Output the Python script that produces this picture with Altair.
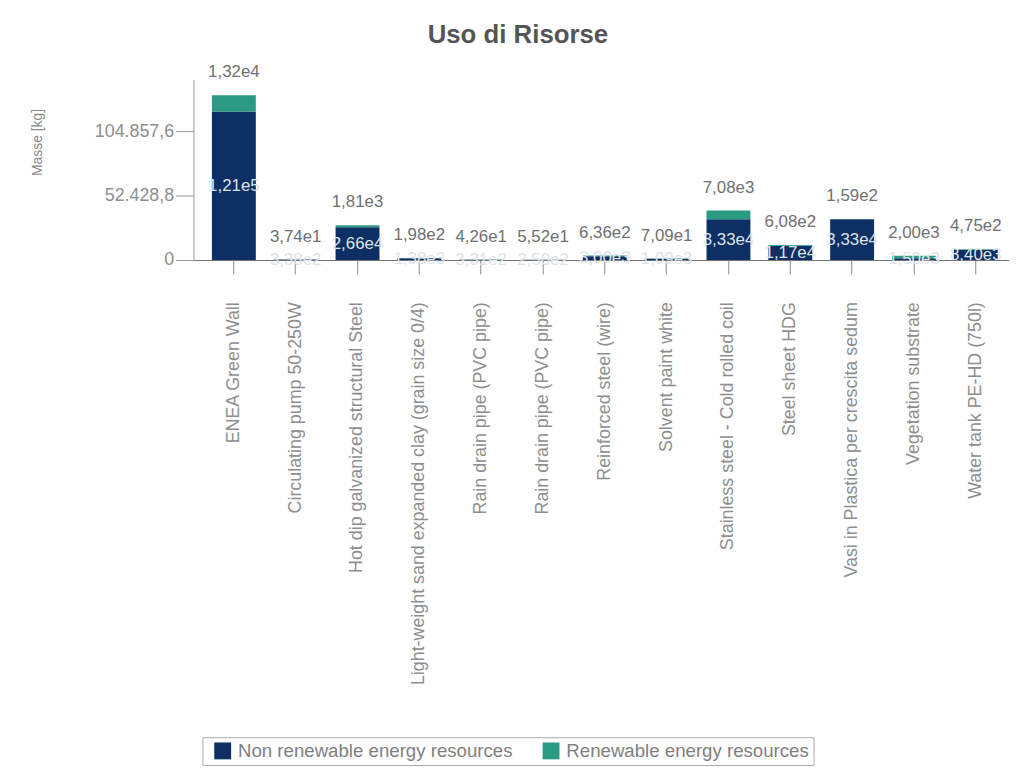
import json
import altair as alt
import pandas as pd

chart_title = "Uso di Risorse"
categories = [
    "ENEA Green Wall",
    "Circulating pump 50-250W",
    "Hot dip galvanized structural Steel",
    "Light-weight sand expanded clay (grain size 0/4)",
    "Rain drain pipe (PVC pipe)",
    "Rain drain pipe (PVC pipe)",
    "Reinforced steel (wire)",
    "Solvent paint white",
    "Stainless steel - Cold rolled coil",
    "Steel sheet HDG",
    "Vasi in Plastica per crescita sedum",
    "Vegetation substrate",
    "Water tank PE-HD (750l)",
]
non_renewable = [121000, 338, 26600, 1380, 331, 250, 3000, 1090, 33300, 11700, 33300, 1500, 8400]
renewable = [13200, 37.4, 1810, 198, 42.6, 55.2, 636, 70.9, 7080, 608, 159, 2000, 475]
series = ["Non renewable energy resources", "Renewable energy resources"]
y_ticks = [0, 26214.4, 52428.8, 78643.2, 104857.6, 131072]
y_tick_labels = ["0", "", "52.428,8", "", "104.857,6", ""]


def fmt(v):
    m, e = f"{v:.2e}".split("e")
    return m.replace(".", ",") + "e" + str(int(e))


rows = []
for i, c in enumerate(categories):
    rows.append({"idx": i, "cat": c, "serie": series[0], "val": non_renewable[i]})
    rows.append({"idx": i, "cat": c, "serie": series[1], "val": renewable[i]})
df = pd.DataFrame(rows)

lab = pd.DataFrame({
    "idx": list(range(len(categories))),
    "nr_mid": [v / 2 for v in non_renewable],
    "top": [a + b for a, b in zip(non_renewable, renewable)],
    "nr_lab": [fmt(v) for v in non_renewable],
    "r_lab": [fmt(v) for v in renewable],
})

x_label_expr = "[" + ",".join(json.dumps(c) for c in categories) + "][datum.value]"
y_label_expr = "{" + ",".join(f"'{t}': {json.dumps(l)}" for t, l in zip(y_ticks, y_tick_labels)) + "}[datum.value + '']"
major_ticks = [t for t, l in zip(y_ticks, y_tick_labels) if l]
major_test = "indexof(" + json.dumps(major_ticks) + ", datum.value) >= 0"
legend_label_expr = (
    "datum.label == " + json.dumps(series[1])
    + " ? datum.label + '\u00a0\u00a0\u00a0' : datum.label"
)

FONT = "Liberation Sans"

x_enc = alt.X(
    "idx:O",
    scale=alt.Scale(paddingInner=0.29, paddingOuter=0.24, align=0.62),
    axis=alt.Axis(
        title=None,
        labelExpr=x_label_expr,
        labelAngle=-90,
        labelFontSize=18,
        labelFont=FONT,
        labelColor="#8e8e8e",
        labelPadding=28,
        tickSize=14,
        tickColor="#8a8a8a",
        domainColor="#707070",
        labelLimit=600,
    ),
)
y_scale = alt.Scale(domain=[0, 147000], nice=False)

bars = alt.Chart(df).mark_bar().encode(
    x=x_enc,
    y=alt.Y(
        "val:Q",
        stack="zero",
        scale=y_scale,
        axis=alt.Axis(
            title="Masse [kg]",
            titleFont=FONT,
            titleFontSize=14,
            titleFontWeight="normal",
            titleColor="#8a8a8a",
            titleAngle=-90,
            titleX=-157,
            titleY=63,
            titleAlign="center",
            titleBaseline="middle",
            values=y_ticks,
            labelExpr=y_label_expr,
            labelFontSize=18,
            labelFont=FONT,
            labelColor="#8e8e8e",
            labelPadding=2,
            tickSize={"condition": {"test": major_test, "value": 18}, "value": 10},
            tickColor="#9a9a9a",
            domainColor="#9a9a9a",
            grid=False,
        ),
    ),
    color=alt.Color(
        "serie:N",
        scale=alt.Scale(domain=series, range=["#0d2f63", "#2a9a82"]),
        legend=alt.Legend(
            title=None,
            orient="none",
            legendX=9,
            legendY=663,
            direction="horizontal",
            symbolType="square",
            symbolSize=289,
            symbolStrokeWidth=0,
            symbolOffset=7,
            labelFont=FONT,
            labelFontSize=18.8,
            labelColor="#808080",
            labelOffset=6,
            labelLimit=600,
            labelExpr=legend_label_expr,
            columnPadding=22,
            strokeColor="#aaaaaa",
            padding=4,
        ),
    ),
    order=alt.Order("serie:N"),
)

inner = alt.Chart(lab).mark_text(
    font=FONT, fontSize=17, color="#dde3ea", baseline="middle"
).encode(x=alt.X("idx:O"), y=alt.Y("nr_mid:Q", scale=y_scale), text="nr_lab:N")

top = alt.Chart(lab).mark_text(
    font=FONT, fontSize=17, color="#707070", baseline="middle", dy=-23
).encode(x=alt.X("idx:O"), y=alt.Y("top:Q", scale=y_scale), text="r_lab:N")

title_mark = alt.Chart(pd.DataFrame({"t": [chart_title]})).mark_text(
    font=FONT, fontSize=26, fontWeight="bold", color="#555555",
    align="center", baseline="middle"
).encode(text="t:N", x=alt.value(327), y=alt.value(-45))

chart = (
    alt.layer(bars, inner, top, title_mark)
    .properties(
        width=822,
        height=182,
        padding={"left": 187, "top": 69, "right": 0, "bottom": 512},
        autosize=alt.AutoSizeParams(type="none"),
    )
    .configure_view(stroke=None)
)

chart.save("out.html", embed_options={"renderer": "svg", "actions": False})
